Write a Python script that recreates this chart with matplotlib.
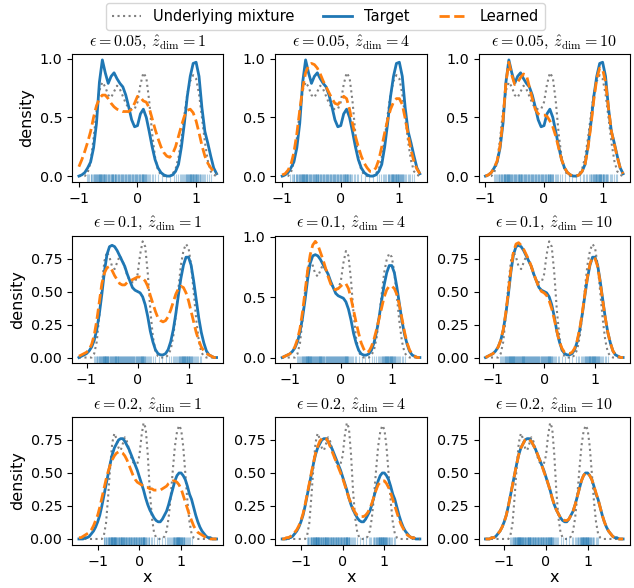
import numpy as np
import matplotlib
matplotlib.use("Agg")
import matplotlib.pyplot as plt
from matplotlib.collections import LineCollection

plt.rcParams["mathtext.fontset"] = "cm"

eps_values = ["0.05", "0.1", "0.2"]
zdims = [1, 4, 10]

# x grids (one per row) and the shared grid of the underlying mixture
x_row = [np.linspace(-1.00, 1.35, 48),
         np.linspace(-1.15, 1.55, 55),
         np.linspace(-1.45, 1.85, 67)]
x_mix = np.linspace(-1.45, 1.85, 67)

mixture = [0, 0, 0, 0, 0, 0, 0, 0, 0, 0,
           0.0, 0.0, 0.03, 0.12, 0.32, 0.55, 0.73, 0.80, 0.76, 0.69,
           0.67, 0.72, 0.77, 0.74, 0.68, 0.62, 0.58, 0.57, 0.57, 0.63,
           0.78, 0.88, 0.84, 0.64, 0.36, 0.16, 0.05, 0.01, 0.0, 0.0,
           0.0, 0.02, 0.06, 0.16, 0.32, 0.52, 0.70, 0.81, 0.86, 0.83,
           0.70, 0.50, 0.29, 0.13, 0.04, 0.01, 0.0, 0.0, 0.0, 0.0,
           0, 0, 0, 0, 0, 0, 0]

# target density, one per row (eps)
target_005 = [0.0, 0.01, 0.03, 0.07, 0.12, 0.24, 0.45, 0.80, 0.99, 0.88,
              0.79, 0.85, 0.88, 0.83, 0.79, 0.76, 0.69, 0.59, 0.48, 0.42,
              0.43, 0.53, 0.57, 0.50, 0.38, 0.25, 0.14, 0.07, 0.03, 0.01,
              0.0, 0.0, 0.01, 0.04, 0.10, 0.25, 0.45, 0.68, 0.85, 0.96,
              0.97, 0.85, 0.58, 0.38, 0.28, 0.17, 0.07, 0.02]
target_01 = [0.0, 0.01, 0.02, 0.03, 0.05, 0.08, 0.13, 0.21, 0.33, 0.48,
             0.65, 0.78, 0.84, 0.85, 0.84, 0.81, 0.77, 0.73, 0.69, 0.63,
             0.58, 0.53, 0.51, 0.50, 0.49, 0.46, 0.40, 0.31, 0.20, 0.12,
             0.06, 0.03, 0.02, 0.02, 0.03, 0.06, 0.12, 0.21, 0.33, 0.47,
             0.60, 0.70, 0.76, 0.76, 0.70, 0.58, 0.44, 0.30, 0.19, 0.11,
             0.05, 0.02, 0.01, 0.0, 0.0]
target_02 = [0.0, 0.0, 0.0, 0.01, 0.01, 0.02, 0.04, 0.06, 0.09, 0.13,
             0.18, 0.25, 0.33, 0.41, 0.49, 0.57, 0.64, 0.69, 0.72, 0.75,
             0.76, 0.76, 0.74, 0.71, 0.68, 0.64, 0.60, 0.56, 0.52, 0.47,
             0.42, 0.37, 0.31, 0.26, 0.22, 0.19, 0.16, 0.14, 0.13, 0.13,
             0.15, 0.18, 0.21, 0.26, 0.32, 0.38, 0.44, 0.48, 0.50, 0.50,
             0.48, 0.45, 0.40, 0.34, 0.30, 0.24, 0.18, 0.13, 0.09, 0.06,
             0.04, 0.02, 0.01, 0.01, 0.0, 0.0, 0.0]

# learned densities, rows = eps, cols = zdim
learned_005_1 = [0.08, 0.14, 0.21, 0.29, 0.38, 0.50, 0.60, 0.66, 0.69, 0.69,
                 0.66, 0.62, 0.59, 0.57, 0.56, 0.55, 0.55, 0.55, 0.57, 0.62,
                 0.68, 0.67, 0.64, 0.63, 0.58, 0.49, 0.40, 0.32, 0.25, 0.20,
                 0.17, 0.16, 0.19, 0.25, 0.34, 0.43, 0.51, 0.56, 0.57, 0.54,
                 0.47, 0.37, 0.26, 0.17, 0.11, 0.07, 0.04, 0.02]
learned_005_4 = [0.01, 0.02, 0.05, 0.10, 0.20, 0.36, 0.56, 0.75, 0.88, 0.94,
                 0.96, 0.95, 0.92, 0.87, 0.81, 0.76, 0.71, 0.66, 0.62, 0.61,
                 0.64, 0.68, 0.66, 0.57, 0.45, 0.34, 0.25, 0.17, 0.11, 0.07,
                 0.04, 0.04, 0.07, 0.14, 0.25, 0.37, 0.48, 0.57, 0.63, 0.66,
                 0.66, 0.61, 0.49, 0.35, 0.22, 0.12, 0.06, 0.02]
learned_005_10 = [0.0, 0.01, 0.03, 0.07, 0.13, 0.26, 0.48, 0.80, 0.97, 0.86,
                  0.78, 0.80, 0.84, 0.87, 0.86, 0.76, 0.66, 0.57, 0.53, 0.52,
                  0.52, 0.51, 0.47, 0.42, 0.34, 0.24, 0.14, 0.07, 0.03, 0.01,
                  0.0, 0.0, 0.01, 0.04, 0.10, 0.24, 0.43, 0.65, 0.83, 0.92,
                  0.91, 0.80, 0.58, 0.38, 0.27, 0.16, 0.07, 0.02]
learned_01_1 = [0.01, 0.02, 0.03, 0.04, 0.06, 0.10, 0.17, 0.28, 0.42, 0.56,
                0.64, 0.68, 0.69, 0.66, 0.62, 0.59, 0.56, 0.55, 0.55, 0.57,
                0.58, 0.59, 0.60, 0.61, 0.61, 0.60, 0.58, 0.54, 0.47, 0.41,
                0.35, 0.30, 0.28, 0.27, 0.28, 0.31, 0.36, 0.42, 0.48, 0.52,
                0.54, 0.53, 0.49, 0.43, 0.35, 0.27, 0.19, 0.13, 0.08, 0.05,
                0.03, 0.02, 0.01, 0.0, 0.0]
learned_01_4 = [0.0, 0.01, 0.02, 0.03, 0.05, 0.09, 0.15, 0.24, 0.38, 0.55,
                0.72, 0.85, 0.93, 0.96, 0.93, 0.87, 0.81, 0.74, 0.67, 0.61,
                0.57, 0.56, 0.57, 0.59, 0.61, 0.61, 0.57, 0.49, 0.39, 0.29,
                0.20, 0.12, 0.07, 0.04, 0.05, 0.09, 0.15, 0.23, 0.32, 0.41,
                0.50, 0.56, 0.59, 0.59, 0.57, 0.52, 0.43, 0.32, 0.21, 0.12,
                0.06, 0.03, 0.01, 0.0, 0.0]
learned_01_10 = [0.0, 0.01, 0.02, 0.03, 0.05, 0.08, 0.13, 0.21, 0.34, 0.50,
                 0.67, 0.80, 0.86, 0.87, 0.85, 0.82, 0.78, 0.74, 0.69, 0.63,
                 0.58, 0.53, 0.50, 0.49, 0.47, 0.43, 0.37, 0.29, 0.20, 0.12,
                 0.07, 0.04, 0.03, 0.03, 0.04, 0.07, 0.13, 0.22, 0.34, 0.48,
                 0.61, 0.71, 0.76, 0.75, 0.69, 0.57, 0.43, 0.30, 0.19, 0.11,
                 0.05, 0.02, 0.01, 0.0, 0.0]
learned_02_1 = [0.01, 0.01, 0.02, 0.03, 0.04, 0.05, 0.07, 0.10, 0.14, 0.18,
                0.24, 0.31, 0.38, 0.45, 0.51, 0.56, 0.60, 0.63, 0.65, 0.66,
                0.66, 0.65, 0.63, 0.60, 0.56, 0.52, 0.48, 0.45, 0.43, 0.42,
                0.41, 0.40, 0.39, 0.39, 0.38, 0.38, 0.37, 0.37, 0.37, 0.37,
                0.38, 0.39, 0.40, 0.42, 0.43, 0.44, 0.44, 0.43, 0.41, 0.38,
                0.33, 0.28, 0.23, 0.18, 0.14, 0.10, 0.07, 0.05, 0.04, 0.03,
                0.02, 0.01, 0.01, 0.0, 0.0, 0.0, 0.0]
learned_02_4 = [0.0, 0.0, 0.01, 0.01, 0.02, 0.03, 0.05, 0.07, 0.10, 0.14,
                0.19, 0.26, 0.34, 0.42, 0.50, 0.58, 0.65, 0.70, 0.74, 0.76,
                0.77, 0.76, 0.74, 0.70, 0.66, 0.62, 0.58, 0.54, 0.50, 0.46,
                0.41, 0.36, 0.31, 0.27, 0.23, 0.20, 0.18, 0.17, 0.17, 0.17,
                0.18, 0.20, 0.23, 0.27, 0.32, 0.37, 0.41, 0.43, 0.44, 0.44,
                0.42, 0.39, 0.35, 0.30, 0.25, 0.20, 0.15, 0.11, 0.08, 0.05,
                0.03, 0.02, 0.01, 0.01, 0.0, 0.0, 0.0]
learned_02_10 = [0.0, 0.0, 0.0, 0.01, 0.01, 0.02, 0.04, 0.06, 0.09, 0.13,
                 0.18, 0.25, 0.33, 0.41, 0.49, 0.57, 0.64, 0.69, 0.72, 0.75,
                 0.76, 0.75, 0.74, 0.71, 0.68, 0.64, 0.60, 0.56, 0.51, 0.47,
                 0.42, 0.37, 0.31, 0.26, 0.22, 0.19, 0.16, 0.15, 0.14, 0.14,
                 0.15, 0.18, 0.21, 0.26, 0.32, 0.38, 0.44, 0.48, 0.50, 0.50,
                 0.48, 0.45, 0.40, 0.35, 0.30, 0.24, 0.18, 0.13, 0.09, 0.06,
                 0.04, 0.02, 0.01, 0.01, 0.0, 0.0, 0.0]

# observed samples (rug)
rug_x = [-0.86, -0.84, -0.82, -0.80, -0.79, -0.77, -0.76, -0.75, -0.74, -0.73,
         -0.72, -0.71, -0.70, -0.69, -0.685, -0.68, -0.67, -0.665, -0.66, -0.65,
         -0.645, -0.64, -0.635, -0.63, -0.62, -0.615, -0.61, -0.60, -0.595, -0.59,
         -0.58, -0.575, -0.57, -0.56, -0.55, -0.54, -0.53, -0.52, -0.51, -0.50,
         -0.49, -0.48, -0.47, -0.46, -0.45, -0.44, -0.435, -0.43, -0.42, -0.415,
         -0.41, -0.40, -0.39, -0.385, -0.38, -0.37, -0.36, -0.35, -0.34, -0.33,
         -0.32, -0.31, -0.30, -0.29, -0.28, -0.27, -0.26, -0.25, -0.24, -0.23,
         -0.22, -0.21, -0.20, -0.19, -0.18, -0.17, -0.16, -0.15, -0.14, -0.13,
         -0.12, -0.11, -0.10, -0.09, -0.08, -0.07, -0.06, -0.05, -0.04, -0.03,
         -0.02, -0.01, 0.00, 0.01, 0.02, 0.03, 0.04, 0.05, 0.06, 0.07,
         0.075, 0.08, 0.09, 0.095, 0.10, 0.11, 0.115, 0.12, 0.13, 0.14,
         0.15, 0.16, 0.18, 0.20, 0.22, 0.24, 0.27, 0.30, 0.35, 0.42,
         0.48, 0.55, 0.62, 0.66, 0.69, 0.72, 0.74, 0.76, 0.78, 0.80,
         0.81, 0.82, 0.83, 0.84, 0.85, 0.86, 0.87, 0.875, 0.88, 0.89,
         0.895, 0.90, 0.91, 0.915, 0.92, 0.93, 0.935, 0.94, 0.95, 0.955,
         0.96, 0.97, 0.975, 0.98, 0.99, 1.00, 1.005, 1.01, 1.02, 1.03,
         1.04, 1.05, 1.06, 1.07, 1.08, 1.10, 1.12, 1.14, 1.16, 1.19,
         1.22, 1.25]

targets = [target_005, target_01, target_02]
learned = [[learned_005_1, learned_005_4, learned_005_10],
           [learned_01_1, learned_01_4, learned_01_10],
           [learned_02_1, learned_02_4, learned_02_10]]

fig, axes = plt.subplots(3, 3, figsize=(6.34, 5.88), dpi=100)
plt.subplots_adjust(left=0.1136, right=0.9937, bottom=0.0735, top=0.908,
                    wspace=0.342, hspace=0.42)

for i in range(3):
    xs = x_row[i]
    mask = (x_mix >= xs[0] - 1e-9) & (x_mix <= xs[-1] + 1e-9)
    for j in range(3):
        ax = axes[i, j]
        ax.plot(x_mix[mask], np.array(mixture)[mask], ls=":", color="gray",
                lw=1.5, label="Underlying mixture")
        ax.plot(xs, targets[i], color="C0", lw=2, label="Target")
        ax.plot(xs, learned[i][j], color="C1", lw=2, ls="--", label="Learned")
        segs = [[(r, 0), (r, 0.06)] for r in rug_x]
        rug = LineCollection(segs, colors="C0", alpha=0.35, linewidths=0.8,
                             transform=ax.get_xaxis_transform())
        ax.add_collection(rug, autolim=False)
        ax.set_xticks([-1, 0, 1])
        ax.tick_params(labelsize=10.3)
        ax.set_title(r"$\epsilon = %s,\, \hat{z}_{\rm dim} = %d$" % (eps_values[i], zdims[j]),
                     fontsize=11.5)
        if j == 0:
            ax.set_ylabel("density", fontsize=11.5)
        if i == 2:
            ax.set_xlabel("x", fontsize=11.5, labelpad=1)

handles, labels = axes[0, 0].get_legend_handles_labels()
fig.legend(handles, labels, loc="upper center", ncol=3,
           bbox_to_anchor=(0.513, 1.007), fontsize=10.5)

fig.savefig("out.png", dpi=100)
